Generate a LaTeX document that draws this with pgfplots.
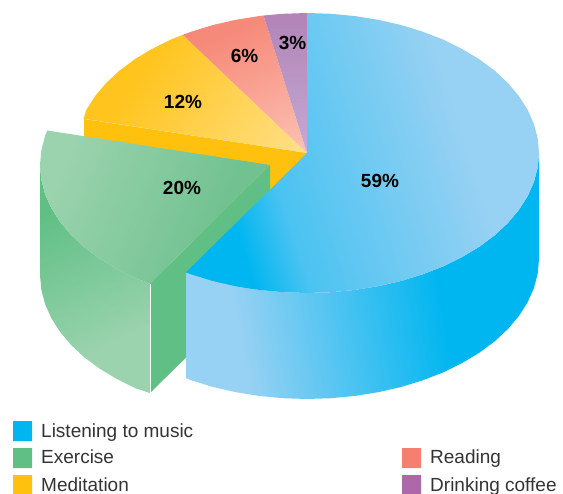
\documentclass[border=0pt]{standalone}
\usepackage{fontspec}
\setmainfont{Liberation Sans}
\usepackage{pgfplots}
\pgfplotsset{compat=1.18}

\definecolor{musicdark}{HTML}{00B6F0}
\definecolor{musicmid}{HTML}{4BC3F1}
\definecolor{musiclight}{HTML}{97D1F3}
\definecolor{exercise}{HTML}{5FBF84}
\definecolor{exlight}{HTML}{9BD3AE}
\definecolor{extop}{HTML}{72C291}
\definecolor{medit}{HTML}{FFC10E}
\definecolor{meditdark}{HTML}{FFC41E}
\definecolor{meditlight}{HTML}{FFE088}
\definecolor{reading}{HTML}{F68070}
\definecolor{readdark}{HTML}{F68A7A}
\definecolor{readlight}{HTML}{FCC2B3}
\definecolor{coffee}{HTML}{AB69AA}
\definecolor{coffeetop}{HTML}{B283B7}
\definecolor{coffeebot}{HTML}{C4ABD3}
\definecolor{legendtext}{HTML}{333333}

% Gradients of the individual faces
\pgfdeclarehorizontalshading{musictop}{100bp}{color(0bp)=(musicdark); color(28.6bp)=(musicdark); color(36.5bp)=(musicmid); color(65bp)=(musiclight); color(100bp)=(musiclight)}
\pgfdeclarehorizontalshading{musicwall}{100bp}{color(0bp)=(musiclight); color(30.5bp)=(musiclight); color(61bp)=(musicdark); color(100bp)=(musicdark)}
\pgfdeclarehorizontalshading{exwall}{100bp}{color(0bp)=(exercise); color(28bp)=(exercise); color(68bp)=(exlight); color(100bp)=(exlight)}
\pgfdeclarehorizontalshading{extopface}{100bp}{color(0bp)=(exlight); color(25bp)=(exlight); color(65bp)=(extop); color(100bp)=(extop)}
\pgfdeclarehorizontalshading{medittop}{100bp}{color(0bp)=(meditdark); color(34bp)=(meditdark); color(84bp)=(meditlight); color(100bp)=(meditlight)}
\pgfdeclarehorizontalshading{readtop}{100bp}{color(0bp)=(readdark); color(30bp)=(readdark); color(83bp)=(readlight); color(100bp)=(readlight)}

\newcommand{\pct}[1]{\fontsize{19bp}{22bp}\selectfont\bfseries #1}
\newcommand{\leg}[1]{\fontsize{19bp}{22bp}\selectfont\color{legendtext}#1}

\begin{document}
\begin{tikzpicture}
\begin{axis}[
  scale only axis, width=563bp, height=494bp,
  xmin=0, xmax=563, ymin=0, ymax=494, y dir=reverse,
  axis lines=none, ticks=none, clip=true,
  every axis plot/.append style={no markers, draw=none, forget plot},
]
% Side wall of the 12% slice, seen in the gap left by the pulled-out slice
\addplot[fill=medit] coordinates {(84,119)(307,153)(307,259)(84,225)(84,119)};

% Top faces of the three rear slices
\addplot[shading=medittop, shading angle=-35] coordinates {
 (307,153)(83.5,118.7)(86.4,109.7)(95.1,96.1)(106.1,83)(119.3,70.7)(134.6,59.3)(151.8,49)(170.6,39.7)(182.7,34.8)(307,153)};
\addplot[shading=readtop, shading angle=-65.5] coordinates {
 (307,153)(182.7,34.8)(191,31.8)(212.6,25.1)(235.3,19.9)(258.8,16.1)(263.5,15.5)(307,153)};
\addplot[top color=coffeetop, bottom color=coffeebot] coordinates {
 (307,153)(263.5,15.5)(282.8,13.8)(307,13)(307,153)};

% Pulled-out 20% slice: outer wall, cut face, top face
\addplot[shading=exwall, shading angle=-64] coordinates {
 (40,165)(40,275)(41.3,289.6)(45.1,304.1)(51.4,318.3)(60.1,331.9)(71.1,345)(84.3,357.3)(99.6,368.7)(116.8,379)(135.6,388.3)(150,393)
 (150,283.5)(135.6,278.3)(116.8,269)(99.6,258.7)(84.3,247.3)(71.1,235)(60.1,221.9)(51.4,208.3)(45.1,194.1)(41.3,179.6)(40,165)};
\addplot[fill=exercise] coordinates {(150,283.5)(270,165)(270,275)(150,393)(150,283.5)};
\addplot[draw=white, line width=0.5bp] coordinates {(150,283.5)(150,393)};
\addplot[shading=extopface, shading angle=-22.5] coordinates {
 (270,165)(150,283.5)(135.6,278.3)(116.8,269)(99.6,258.7)(84.3,247.3)(71.1,235)(60.1,221.9)(51.4,208.3)(45.1,194.1)(41.3,179.6)(40,165)(41.3,150.4)(45.1,135.9)(47.3,130.5)(270,165)};

% 59% slice: curved wall, then top face
\addplot[shading=musicwall, shading angle=9.9] coordinates {
 (539,153)(539,259)(537.7,273.6)(533.9,288.1)(527.6,302.3)(518.9,315.9)(507.9,329)(494.7,341.3)(479.4,352.7)(462.2,363)(443.4,372.3)(423,380.2)(401.4,386.9)(378.7,392.1)(355.2,395.9)(331.2,398.2)(307,399)(282.8,398.2)(258.8,395.9)(235.3,392.1)(212.6,386.9)(191,380.2)(186,378)
 (186,272.4)(191,274.2)(212.6,280.9)(235.3,286.1)(258.8,289.9)(282.8,292.2)(307,293)(331.2,292.2)(355.2,289.9)(378.7,286.1)(401.4,280.9)(423,274.2)(443.4,266.3)(462.2,257)(479.4,246.7)(494.7,235.3)(507.9,223)(518.9,209.9)(527.6,196.3)(533.9,182.1)(537.7,167.6)(539,153)};
\addplot[shading=musictop, shading angle=17.8] coordinates {
 (307,153)(307,13)(331.2,13.8)(355.2,16.1)(378.7,19.9)(401.4,25.1)(423,31.8)(443.4,39.7)(462.2,49)(479.4,59.3)(494.7,70.7)(507.9,83)(518.9,96.1)(527.6,109.7)(533.9,123.9)(537.7,138.4)(539,153)
 (537.7,167.6)(533.9,182.1)(527.6,196.3)(518.9,209.9)(507.9,223)(494.7,235.3)(479.4,246.7)(462.2,257)(443.4,266.3)(423,274.2)(401.4,280.9)(378.7,286.1)(355.2,289.9)(331.2,292.2)(307,293)(282.8,292.2)(258.8,289.9)(235.3,286.1)(212.6,280.9)(191,274.2)(186,272.4)(307,153)};

% Legend swatches
\addplot[fill=musicdark] coordinates {(13,421)(32,421)(32,441)(13,441)(13,421)};
\addplot[fill=exercise] coordinates {(13,448)(32,448)(32,468)(13,468)(13,448)};
\addplot[fill=medit] coordinates {(13,475)(32,475)(32,494)(13,494)(13,475)};
\addplot[fill=reading] coordinates {(402,448)(421,448)(421,468)(402,468)(402,448)};
\addplot[fill=coffee] coordinates {(402,475)(421,475)(421,494)(402,494)(402,475)};

% Share labels
\node at (axis cs:380,181) {\pct{59\%}};
\node at (axis cs:182,188) {\pct{20\%}};
\node at (axis cs:183,102) {\pct{12\%}};
\node at (axis cs:244.5,56) {\pct{6\%}};
\node at (axis cs:292.5,43) {\pct{3\%}};

% Legend labels
\node[anchor=base west, inner sep=0pt] at (axis cs:41,437) {\leg{Listening to music}};
\node[anchor=base west, inner sep=0pt] at (axis cs:41,463.5) {\leg{Exercise}};
\node[anchor=base west, inner sep=0pt] at (axis cs:41,491) {\leg{Meditation}};
\node[anchor=base west, inner sep=0pt] at (axis cs:430,463.5) {\leg{Reading}};
\node[anchor=base west, inner sep=0pt] at (axis cs:430,491) {\leg{Drinking coffee}};
\end{axis}
% Page frame
\path[use as bounding box] (0,0) rectangle (563bp,494bp);
\end{tikzpicture}
\end{document}
